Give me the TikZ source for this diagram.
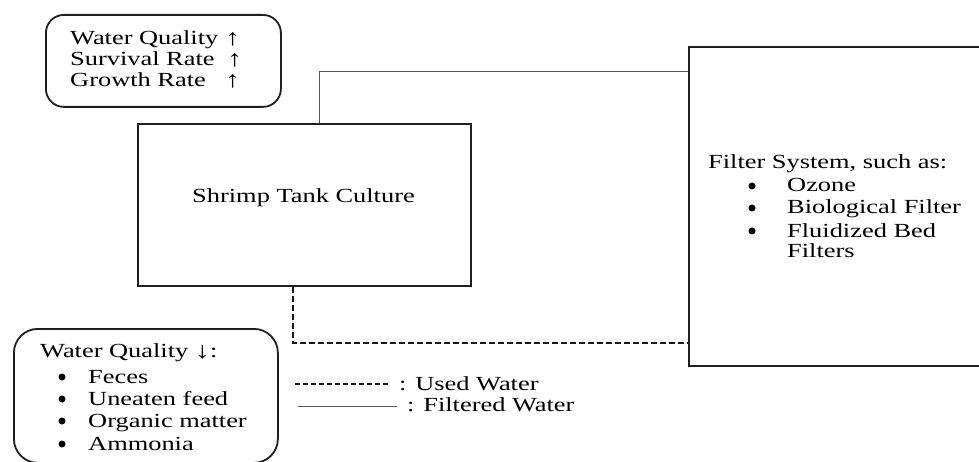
\documentclass[tikz,border=0pt]{standalone}
\usepackage{fontspec}
\setmainfont[FakeStretch=1.32]{Liberation Serif}
\newcommand{\figfont}{\fontsize{20}{24}\selectfont}
\newcommand{\arrfont}{\fontsize{23}{24}\selectfont}
\begin{document}
\begin{tikzpicture}[x=1pt,y=-1pt,
  box/.style={draw=black!88, line width=1.8pt, inner sep=0pt, anchor=north west},
  txt/.style={anchor=base west, inner sep=0pt, font=\figfont, text=black},
  ctxt/.style={anchor=base, inner sep=0pt, font=\figfont, text=black},
  bul/.style={circle, fill=black, inner sep=0pt, minimum size=7pt},
  flow/.style={draw=black!65, line width=1pt},
  used/.style={draw=black!90, line width=1.6pt, dash pattern=on 6pt off 3pt}]
\useasboundingbox (0,0) rectangle (979,462);
\fill[white] (0,0) rectangle (979,462);

% boxes
\node[box, rounded corners=18pt, minimum width=235pt, minimum height=92pt] (upbox) at (45,14) {};
\node[box, minimum width=333pt, minimum height=162pt] (shrimp) at (137,123) {};
\node[box, minimum width=300pt, minimum height=319pt] (filter) at (688,46) {};
\node[box, rounded corners=24pt, minimum width=264pt, minimum height=134pt] (downbox) at (13,328) {};

% top box text
\node[txt] (up1) at (70,45) {\makebox[155pt][l]{Water Quality}\raisebox{-1pt}{\arrfont↑}};
\node[txt] (up2) at (70,66) {\makebox[157pt][l]{Survival Rate}\raisebox{-1pt}{\arrfont↑}};
\node[txt] (up3) at (70,87) {\makebox[155pt][l]{Growth Rate}\raisebox{-1pt}{\arrfont↑}};

% shrimp text
\node[ctxt] (shrimptxt) at (303.5,203) {Shrimp Tank Culture};

% filter text
\node[txt] (ft) at (708,169) {Filter System, such as:};
\node[bul] (fb1) at (752,186) {};
\node[bul] (fb2) at (752,208) {};
\node[bul] (fb3) at (752,231) {};
\node[txt] (fi1) at (787,192) {Ozone};
\node[txt] (fi2) at (787,214) {Biological Filter};
\node[txt] (fi3) at (787,237) {Fluidized Bed};
\node[txt] (fi4) at (787,258) {Filters};

% bottom box text
\node[txt] (dt) at (40,357) {Water Quality \raisebox{-1pt}{\arrfont↓}:};
\node[bul] (db1) at (62,377) {};
\node[bul] (db2) at (62,399) {};
\node[bul] (db3) at (62,421) {};
\node[bul] (db4) at (62,444) {};
\node[txt] (di1) at (88,383) {Feces};
\node[txt] (di2) at (88,405) {Uneaten feed};
\node[txt] (di3) at (88,427) {Organic matter};
\node[txt] (di4) at (88,450) {Ammonia};

% connectors
\coordinate (topbend) at (319,72);
\draw[flow] (shrimp.north -| topbend) -- (topbend) -- (topbend -| filter.west);
\coordinate (botbend) at (293,343);
\draw[used] (shrimp.south -| botbend) -- (botbend) -- (botbend -| filter.west);

% legend
\coordinate (lu1) at (295,384);
\coordinate (lu2) at (390,384);
\coordinate (lf1) at (298,406);
\coordinate (lf2) at (397,406);
\draw[used, line width=1.3pt, dash pattern=on 5pt off 3pt] (lu1) -- (lu2);
\draw[flow] (lf1) -- (lf2);
\node[txt] (lut) at (399,390) {: Used Water};
\node[txt] (lft) at (407,411) {: Filtered Water};
\end{tikzpicture}
\end{document}
